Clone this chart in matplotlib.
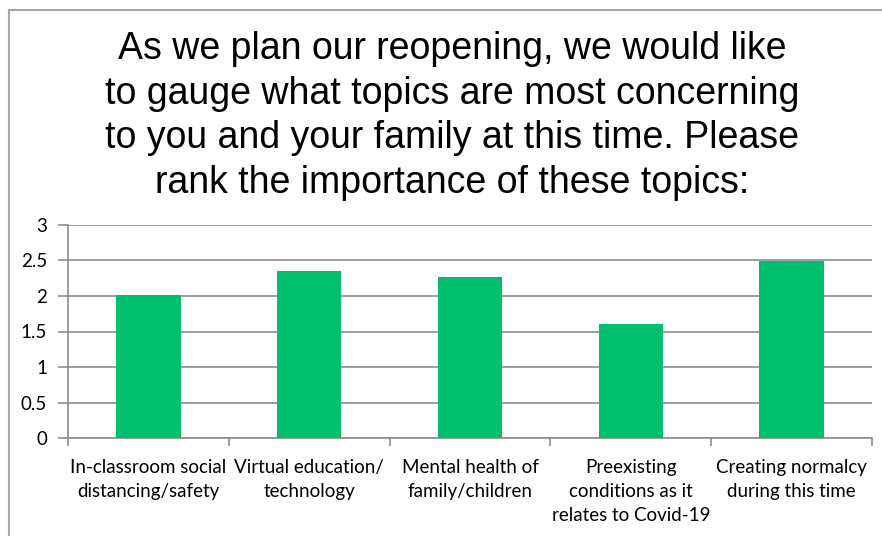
import matplotlib.pyplot as plt
from matplotlib.patches import Rectangle
import numpy as np

# data
categories = ['In-classroom social\ndistancing/safety',
              'Virtual education/\ntechnology',
              'Mental health of\nfamily/children',
              'Preexisting\nconditions as it\nrelates to Covid-19',
              'Creating normalcy\nduring this time']
scores = [2.01, 2.345, 2.27, 1.605, 2.49]
yticks = [0, 0.5, 1, 1.5, 2, 2.5, 3]
title = ('As we plan our reopening, we would like\n'
         'to gauge what topics are most concerning\n'
         'to you and your family at this time. Please\n'
         'rank the importance of these topics:')

grid_col = '#8c8c8c'

fig = plt.figure(figsize=(8.82, 5.36), dpi=100)
ax = fig.add_axes([68 / 882, 1 - 438.3 / 536, 804 / 882, 213.6 / 536])

x = np.arange(len(categories))
ax.bar(x, scores, width=0.4, color='#00bf6f', zorder=3)

ax.set_xlim(-0.5, len(categories) - 0.5)
ax.set_ylim(0, 3)
ax.set_yticks(yticks)
ax.set_yticklabels(['0', '0.5', '1', '1.5', '2', '2.5', '3'])
ax.yaxis.grid(True, color=grid_col, linewidth=1.2, zorder=0)

# category boundaries as ticks
ax.set_xticks(np.arange(-0.5, len(categories), 1.0))
ax.set_xticklabels([])
ax.set_xticks(x, minor=True)
ax.set_xticklabels(categories, minor=True, fontfamily='Lato', fontsize=13.5,
                   linespacing=1.5, va='top')
ax.tick_params(axis='x', which='minor', length=0, pad=15)
ax.tick_params(axis='x', which='major', length=6, color=grid_col, width=1.2)
ax.tick_params(axis='y', length=7, color=grid_col, width=1.2, pad=8,
               labelsize=13.5)
for lbl in ax.get_yticklabels():
    lbl.set_fontfamily('Lato')

for s in ['top', 'right']:
    ax.spines[s].set_visible(False)
for s in ['left', 'bottom']:
    ax.spines[s].set_color(grid_col)
    ax.spines[s].set_linewidth(1.2)

fig.text(452 / 882, 1 - 31 / 536, title, ha='center', va='top',
         fontfamily='Liberation Sans', fontsize=27, linespacing=1.31)

# chart border (only top and left edges visible)
fig.patches.append(Rectangle((9 / 882, -0.1), 2, 1.1 - 10 / 536,
                             transform=fig.transFigure, fill=False,
                             edgecolor='#a6a6a6', linewidth=1.5))

fig.savefig('out.png', dpi=100)
